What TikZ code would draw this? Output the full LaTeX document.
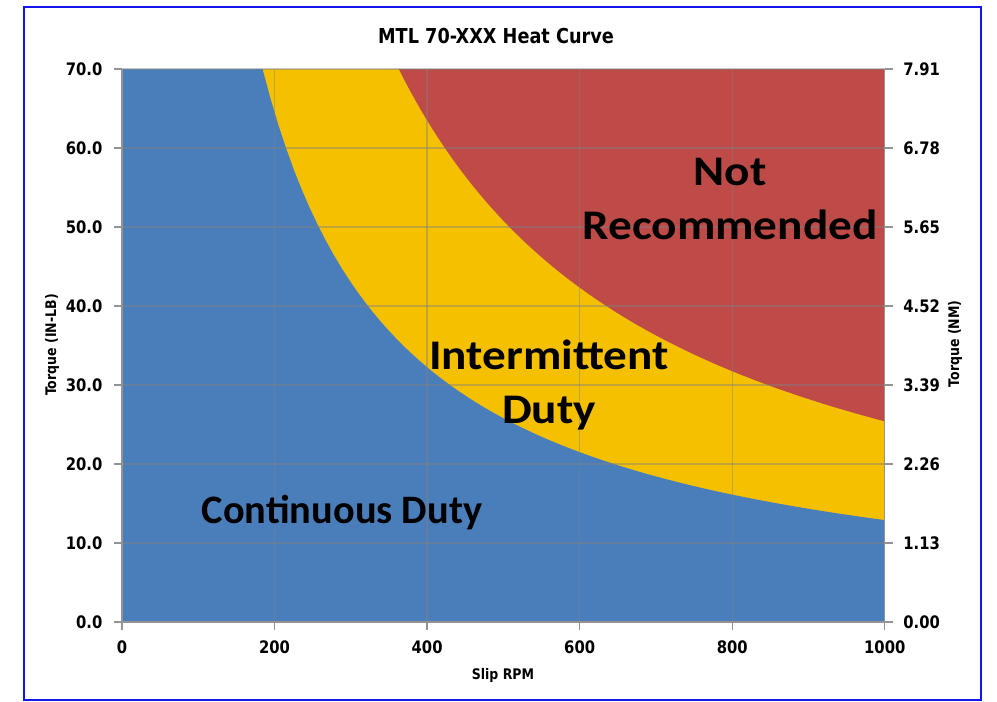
\documentclass[tikz,border=0pt]{standalone}
\usepackage{fontspec}
\setmainfont{Carlito}
\newfontfamily\tahfont[FakeStretch=0.86]{DejaVu Sans}
\newfontfamily\widefont[FakeStretch=1.12]{Carlito}
\usepackage{tikz}
\definecolor{bluezone}{RGB}{74,126,187}
\definecolor{yellowzone}{RGB}{245,192,0}
\definecolor{redzone}{RGB}{190,75,72}
\definecolor{chartframe}{RGB}{20,20,240}

\begin{document}
\begin{tikzpicture}[x=0.02cm,y=0.02cm,
  frame/.style={draw=chartframe,line width=1pt},
  grid line/.style={draw=gray,line width=0.7pt,opacity=0.45},
  axis line/.style={draw=gray!85,line width=0.7pt},
  tick label/.style={font=\tahfont\bfseries\fontsize{9.8}{11}\selectfont,inner sep=0pt},
  axis title/.style={font=\tahfont\bfseries\fontsize{8.3}{10}\selectfont},
  zone label/.style={font=\fontsize{23}{31}\selectfont\bfseries,align=center},
  wide label/.style={font=\widefont\fontsize{24}{31}\selectfont\bfseries,align=center}]

  \useasboundingbox (0,0) rectangle (997,702);
  \draw[frame] (24,2) rectangle (981,695);

  \node[font=\tahfont\bfseries\fontsize{11.7}{14}\selectfont] (title) at (496,666) {MTL 70-XXX Heat Curve};

  \begin{scope}[shift={(122,80)},x=0.01526cm,y=0.158cm]
    % zones
    \fill[yellowzone] (0,0) rectangle (1000,70);
    \fill[redzone] plot[domain=362.9:1000,samples=80] (\x,{254/\x*100}) -- (1000,70) -- cycle;
    \fill[bluezone] (0,0) -- (0,70) -- plot[domain=184.3:1000,samples=80] (\x,{129/\x*100}) -- (1000,0) -- cycle;

    % grid
    \foreach \r in {200,400,...,800}
      \draw[grid line] (\r,0) -- (\r,70);
    \foreach \t in {10,20,...,70}
      \draw[grid line] (0,\t) -- (1000,\t);

    % axes and ticks
    \draw[axis line] (0,70) -- (0,0) -- (1000,0) -- (1000,70);
    \foreach \t in {0,10,...,70}
      \draw[axis line] (0,\t) -- ++(-0.16cm,0)
        node[tick label,anchor=east,xshift=-0.22cm] (l\t) {\t.0};
    \foreach \t/\nm in {0/0.00,10/1.13,20/2.26,30/3.39,40/4.52,50/5.65,60/6.78,70/7.91}
      \draw[axis line] (1000,\t) -- ++(0.16cm,0)
        node[tick label,anchor=west,xshift=0.2cm] (r\t) {\nm};
    \foreach \r in {0,200,...,1000}
      \draw[axis line] (\r,0) -- ++(0,-0.16cm)
        node[tick label,anchor=north,yshift=-0.2cm] (b\r) {\r};
  \end{scope}

  \node[axis title,rotate=90] (ytitle) at (52,357) {Torque (IN-LB)};
  \node[axis title,rotate=90] (y2title) at (955,358) {Torque (NM)};
  \node[axis title] (xtitle) at (503,27) {Slip RPM};

  \node[zone label] (cont) at (342,190) {Continuous Duty};
  \node[wide label] (inter) at (549,317) {Intermittent\\Duty};
  \node[wide label] (notrec) at (730,503) {Not\\Recommended};
\end{tikzpicture}
\end{document}
